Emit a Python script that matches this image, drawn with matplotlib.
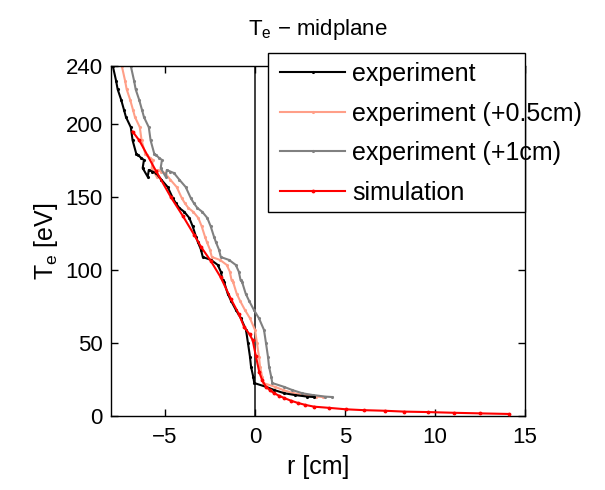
import numpy as np
import matplotlib
matplotlib.use("Agg")
import matplotlib.pyplot as plt
from matplotlib.patches import Rectangle

plt.rcParams['font.family'] = ['Liberation Sans', 'DejaVu Sans']
plt.rcParams['mathtext.default'] = 'regular'

r_exp = np.array([-7.9, -7.72, -7.63, -7.44, -7.28, -7.17, -6.9, -6.8, -6.6, -6.5,
                  -6.33, -6.17, -6.24, -5.96, -5.9, -5.7, -5.5, -5.2, -4.85, -4.57,
                  -4.4, -4.2, -3.93, -3.65, -3.46, -3.28, -3.18, -3.0, -2.9, -2.44,
                  -2.07, -1.9, -1.8, -1.72, -1.52, -1.33, -1.06, -0.78, -0.5, -0.39,
                  -0.28, -0.22, -0.1, -0.04, 0.61, 1.07, 1.63, 2.2, 2.9, 3.3])
te_exp = np.array([240, 230, 224, 217, 210, 205, 198, 189, 180, 179,
                   177, 175.6, 170, 164, 168.7, 167.6, 166.6, 162, 157, 149.5,
                   146, 142.6, 140, 135.8, 130, 123, 119.5, 114, 109, 107,
                   103.6, 99, 93, 92, 84, 79, 72.7, 67, 59, 50,
                   40.7, 33.8, 27, 22.6, 20, 17.8, 15.6, 14.4, 13.3, 13.0])

# radial shifts given in the legend labels
shift_half = 0.5
shift_one = 1.0

# Simulation profile
r_sim = np.array([-6.8, -6.43, -5.5, -4.67, -4.0, -3.37, -3.0, -2.44, -1.9, -1.33,
                  -0.9, -0.6, -0.3, -0.13, 0.05, 0.24, 0.4, 0.61, 0.85, 1.07,
                  1.35, 1.63, 2.0, 2.37, 2.8, 3.28, 4.1, 5.05, 6.05, 7.2,
                  8.3, 9.6, 11.05, 12.5, 14.1])
te_sim = np.array([195, 189, 168, 150, 137, 124, 116, 106, 95, 80,
                   70, 61, 56, 52, 41, 30, 24.5, 20, 17.5, 15.6,
                   13.8, 12.3, 10.5, 9.0, 7.6, 6.4, 5.6, 4.6, 4.0, 3.6,
                   3.0, 2.7, 2.2, 1.8, 1.4])

labels = ['experiment', 'experiment (+0.5cm)', 'experiment (+1cm)', 'simulation']
colors = ['#000000', '#ff9f88', '#808080', '#ff0000']

x_ticks = [-5, 0, 5, 10, 15]
x_ticklabels = ['\u22125', '0', '5', '10', '15']
y_ticks = [0, 50, 100, 150, 200, 240]

W, H = 605, 490
fig = plt.figure(figsize=(W / 100, H / 100), dpi=100)
ax = fig.add_axes([111 / W, 1 - 416 / H, (525 - 111) / W, (416 - 66) / H])

ax.axvline(0, color='#404040', lw=1.4, zorder=1)

h1, = ax.plot(r_exp, te_exp, color=colors[0], lw=1.5, marker='.', ms=2.5, zorder=3)
h2, = ax.plot(r_exp + shift_half, te_exp, color=colors[1], lw=1.5, marker='.', ms=2.5, zorder=2)
h3, = ax.plot(r_exp + shift_one, te_exp, color=colors[2], lw=1.5, marker='.', ms=2.5, zorder=2)
h4, = ax.plot(r_sim, te_sim, color=colors[3], lw=1.5, marker='.', ms=3.5, zorder=4)

ax.set_xlim(-8, 15)
ax.set_ylim(0, 240)
ax.set_xticks(x_ticks)
ax.set_xticklabels(x_ticklabels)
ax.set_yticks(y_ticks)
ax.tick_params(direction='in', top=True, right=True, labelsize=16, length=5, width=1)
ax.tick_params(axis='x', pad=8)
ax.tick_params(axis='y', pad=6)
for s in ax.spines.values():
    s.set_linewidth(1.0)

ax.set_xlabel('r [cm]', fontsize=18, labelpad=5)
ax.set_ylabel(r'T$_{e}$ [eV]', fontsize=18, labelpad=4)
ax.set_title('T$_{e}$ \u2212 midplane', fontsize=16, pad=22)

# legend frame (text overflows the frame as in the original)
frame = Rectangle((268 / W, 1 - 212 / H), (525 - 268) / W, (212 - 53) / H,
                  transform=fig.transFigure, facecolor='white', edgecolor='black',
                  lw=1.0, zorder=4)
fig.patches.append(frame)
leg = fig.legend([h1, h2, h3, h4], labels, loc='upper left',
                 bbox_to_anchor=(280 / W, 1 - 62 / H), bbox_transform=fig.transFigure,
                 borderaxespad=0, borderpad=0, frameon=False, fontsize=18,
                 handlelength=2.6, handletextpad=0.28, labelspacing=0.62)
leg.set_zorder(6)

fig.savefig('out.png', dpi=100)
